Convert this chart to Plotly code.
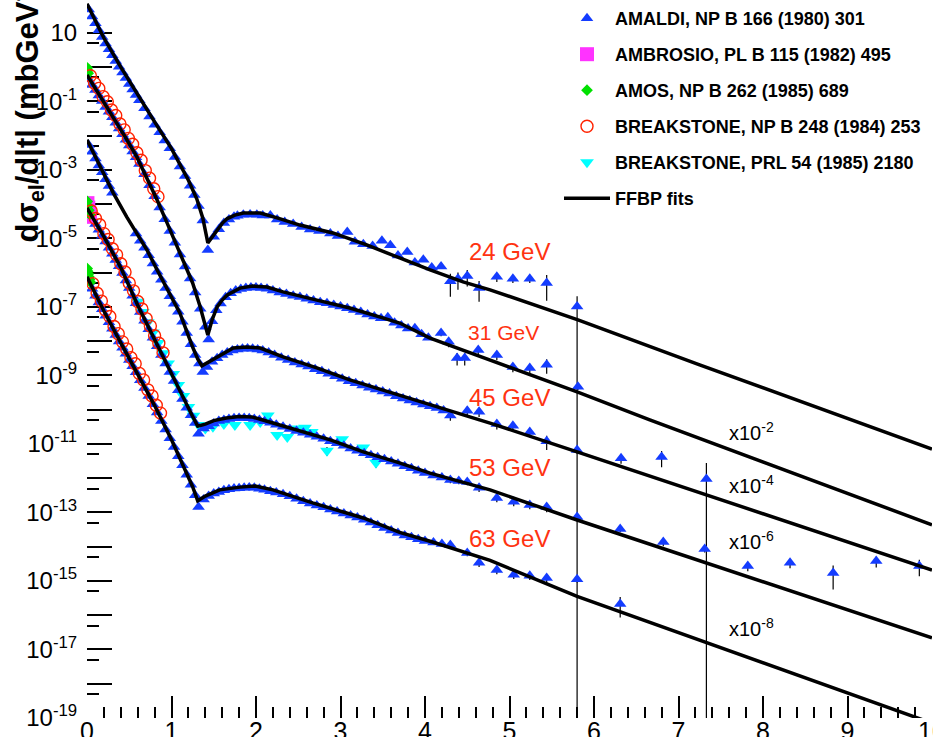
import plotly.graph_objects as go

# ---------------- data (plotted values incl. the x10^-2k offsets), stored as log10 ----------------
# FFBP fit curves: |t| (GeV^2) and log10(dsigma/dt)
fit24_t = [0.0, 0.2, 0.4, 0.6, 0.8, 1.0, 1.2, 1.3, 1.37, 1.43, 1.48, 1.54, 1.6, 1.66, 1.75, 1.85, 2.05, 2.25, 2.52, 2.91, 3.31, 3.70, 4.06, 4.45, 4.77, 5.81, 7.25, 10.0]
fit24_log10 = [1.85, 0.85, 0.0, -0.82, -1.6, -2.38, -3.3, -3.85, -4.4, -5.13, -4.95, -4.75, -4.56, -4.42, -4.32, -4.26, -4.26, -4.40, -4.61, -4.84, -5.19, -5.57, -5.92, -6.27, -6.50, -7.38, -8.69, -11.15]
fit31_t = [0.0, 0.15, 0.31, 0.45, 0.59, 0.71, 0.83, 0.95, 1.07, 1.16, 1.25, 1.34, 1.43, 1.48, 1.54, 1.60, 1.66, 1.81, 1.96, 2.13, 2.32, 2.72, 3.11, 3.50, 3.70, 4.06, 4.45, 4.77, 5.80, 6.66, 10.0]
fit31_log10 = [-0.23, -0.82, -1.45, -2.03, -2.62, -3.24, -3.88, -4.56, -5.25, -5.77, -6.30, -7.00, -7.82, -7.38, -7.00, -6.80, -6.65, -6.45, -6.39, -6.42, -6.56, -6.80, -7.03, -7.32, -7.47, -7.91, -8.26, -8.55, -9.48, -10.30, -13.36]
fit45_t = [0.0, 0.15, 0.31, 0.47, 0.59, 0.71, 0.83, 0.95, 1.10, 1.25, 1.31, 1.36, 1.43, 1.54, 1.63, 1.73, 1.89, 2.05, 2.32, 2.72, 3.11, 3.50, 3.67, 4.06, 4.77, 5.80, 10.0]
fit45_log10 = [-2.12, -2.87, -3.67, -4.37, -4.85, -5.34, -5.92, -6.50, -7.18, -8.17, -8.52, -8.72, -8.62, -8.46, -8.32, -8.20, -8.17, -8.20, -8.46, -8.78, -9.13, -9.42, -9.57, -9.86, -10.39, -11.23, -14.68]
fit53_t = [0.0, 0.2, 0.4, 0.6, 0.8, 1.0, 1.15, 1.25, 1.31, 1.4, 1.5, 1.65, 1.8, 1.95, 2.08, 2.49, 2.88, 3.27, 3.67, 4.06, 4.77, 5.80, 10.0]
fit53_log10 = [-4.11, -4.95, -5.85, -6.95, -7.95, -8.95, -9.75, -10.2, -10.48, -10.42, -10.32, -10.24, -10.20, -10.21, -10.30, -10.59, -10.88, -11.23, -11.53, -11.85, -12.34, -13.22, -16.66]
fit63_t = [0.0, 0.2, 0.4, 0.6, 0.8, 1.0, 1.15, 1.25, 1.31, 1.4, 1.57, 1.81, 1.99, 2.20, 2.67, 3.27, 3.70, 4.06, 4.77, 5.80, 10.0]
fit63_log10 = [-6.12, -7.12, -8.05, -8.95, -9.88, -10.88, -11.68, -12.25, -12.66, -12.52, -12.34, -12.26, -12.23, -12.34, -12.72, -13.16, -13.58, -13.84, -14.40, -15.45, -19.15]

# AMALDI (t, log10)
amaldi_24 = [(0.02,1.68),(0.06,1.48),(0.10,1.28),(0.14,1.08),(0.18,0.88),(0.22,0.69),(0.26,0.52),(0.30,0.35),(0.34,0.18),(0.38,0.01),(0.42,-0.16),(0.46,-0.32),(0.50,-0.49),(0.54,-0.65),(0.58,-0.81),(0.62,-0.97),(0.68,-1.20),(0.74,-1.44),(0.80,-1.68),(0.86,-1.90),(0.92,-2.14),(0.98,-2.37),(1.04,-2.62),(1.10,-2.90),(1.16,-3.18),(1.22,-3.46),(1.27,-3.73),(1.32,-4.05),(1.37,-4.48),(1.43,-5.34),(1.50,-4.95),(1.56,-4.73),(1.62,-4.55),(1.68,-4.45),(1.74,-4.37),(1.78,-4.34),(1.85,-4.31),(1.93,-4.30),(2.01,-4.31),(2.08,-4.33),(2.17,-4.33),(2.25,-4.45),(2.34,-4.52),(2.44,-4.58),(2.54,-4.67),(2.64,-4.74),(2.75,-4.78),(2.88,-4.86),(2.97,-4.93),(3.08,-4.81),(3.17,-5.10),(3.27,-5.17),(3.38,-5.22),(3.49,-5.07),(3.59,-5.20),(3.68,-5.50),(3.79,-5.40),(3.88,-5.70),(3.98,-5.62),(4.08,-5.85),(4.19,-5.82)]
amaldi_31 = [(0.02,-0.36),(0.06,-0.52),(0.10,-0.67),(0.14,-0.83),(0.18,-0.99),(0.22,-1.16),(0.26,-1.30),(0.30,-1.46),(0.34,-1.62),(0.38,-1.79),(0.42,-1.96),(0.46,-2.12),(0.50,-2.29),(0.54,-2.46),(0.58,-2.63),(0.62,-2.83),(0.68,-3.13),(0.74,-3.45),(0.80,-3.77),(0.86,-4.10),(0.92,-4.44),(0.98,-4.78),(1.04,-5.13),(1.10,-5.47),(1.16,-5.82),(1.22,-6.17),(1.28,-6.58),(1.34,-7.05),(1.40,-7.58),(1.44,-7.95),(1.48,-7.42),(1.53,-7.10),(1.58,-6.90),(1.64,-6.72),(1.70,-6.60),(1.76,-6.52),(1.82,-6.48),(1.88,-6.45),(1.94,-6.43),(2.00,-6.43),(2.06,-6.45),(2.13,-6.47),(2.20,-6.52),(2.28,-6.58),(2.36,-6.62),(2.44,-6.67),(2.52,-6.71),(2.60,-6.76),(2.68,-6.81),(2.76,-6.86),(2.84,-6.89),(2.92,-6.94),(3.00,-6.99),(3.08,-7.04),(3.16,-7.09),(3.24,-7.15),(3.32,-7.22),(3.40,-7.28),(3.48,-7.33),(3.56,-7.30),(3.64,-7.46),(3.72,-7.54),(3.80,-7.63),(3.88,-7.62),(3.96,-7.80),(4.04,-7.90)]
amaldi_45 = [(0.02,-2.27),(0.06,-2.47),(0.10,-2.67),(0.14,-2.87),(0.18,-3.07),(0.22,-3.27),(0.26,-3.47),(0.30,-3.67),(0.58,-4.86),(0.63,-5.07),(0.68,-5.27),(0.73,-5.49),(0.78,-5.73),(0.83,-5.97),(0.88,-6.21),(0.93,-6.45),(0.98,-6.69),(1.03,-6.91),(1.08,-7.14),(1.13,-7.43),(1.18,-7.76),(1.23,-8.09),(1.28,-8.40),(1.33,-8.65),(1.37,-8.90),(1.42,-8.75),(1.48,-8.60),(1.54,-8.50),(1.60,-8.40),(1.66,-8.33),(1.72,-8.27),(1.78,-8.24),(1.84,-8.22),(1.90,-8.21),(1.96,-8.22),(2.02,-8.24),(2.08,-8.27),(2.15,-8.33),(2.22,-8.40),(2.30,-8.48),(2.38,-8.55),(2.46,-8.62),(2.54,-8.68),(2.62,-8.74),(2.70,-8.82),(2.78,-8.88),(2.86,-8.95),(2.94,-9.02),(3.02,-9.10),(3.10,-9.17),(3.18,-9.23),(3.26,-9.29),(3.34,-9.36),(3.42,-9.41),(3.50,-9.47),(3.58,-9.53),(3.66,-9.61),(3.74,-9.67),(3.82,-9.73),(3.90,-9.79),(3.98,-9.85)]
amaldi_53 = [(0.02,-4.24),(0.06,-4.41),(0.10,-4.58),(0.14,-4.75),(0.18,-4.92),(0.22,-5.09),(0.26,-5.27),(0.30,-5.45),(0.34,-5.63),(0.38,-5.81),(0.42,-6.01),(0.46,-6.23),(0.50,-6.45),(0.54,-6.67),(0.58,-6.89),(0.63,-7.15),(0.68,-7.40),(0.73,-7.65),(0.78,-7.90),(0.83,-8.15),(0.88,-8.40),(0.93,-8.65),(0.98,-8.90),(1.03,-9.16),(1.08,-9.43),(1.13,-9.69),(1.18,-9.94),(1.23,-10.16),(1.28,-10.39),(1.32,-10.70),(1.38,-10.55),(1.44,-10.48),(1.50,-10.40),(1.56,-10.33),(1.62,-10.30),(1.68,-10.27),(1.74,-10.25),(1.80,-10.24),(1.86,-10.24),(1.92,-10.25),(1.98,-10.27),(2.04,-10.30),(2.10,-10.34),(2.17,-10.38),(2.24,-10.44),(2.32,-10.50),(2.40,-10.56),(2.48,-10.62),(2.56,-10.67),(2.64,-10.73),(2.72,-10.79),(2.80,-10.85),(2.88,-10.92),(2.96,-10.98),(3.04,-11.05),(3.12,-11.13),(3.20,-11.20),(3.28,-11.27),(3.36,-11.33),(3.44,-11.39),(3.52,-11.45),(3.60,-11.51),(3.68,-11.58),(3.76,-11.65),(3.84,-11.71),(3.92,-11.78),(4.00,-11.85)]
amaldi_63 = [(0.02,-6.27),(0.06,-6.47),(0.10,-6.67),(0.14,-6.87),(0.18,-7.07),(0.22,-7.26),(0.26,-7.45),(0.30,-7.64),(0.34,-7.82),(0.38,-8.01),(0.42,-8.19),(0.46,-8.37),(0.50,-8.55),(0.54,-8.73),(0.58,-8.91),(0.63,-9.14),(0.68,-9.37),(0.73,-9.60),(0.78,-9.84),(0.83,-10.08),(0.88,-10.33),(0.93,-10.58),(0.98,-10.83),(1.03,-11.09),(1.08,-11.36),(1.13,-11.62),(1.18,-11.90),(1.23,-12.19),(1.28,-12.50),(1.32,-12.84),(1.38,-12.62),(1.44,-12.52),(1.50,-12.45),(1.56,-12.40),(1.62,-12.35),(1.68,-12.32),(1.74,-12.30),(1.80,-12.29),(1.86,-12.28),(1.92,-12.27),(1.98,-12.28),(2.04,-12.31),(2.10,-12.34),(2.17,-12.38),(2.24,-12.42),(2.32,-12.47),(2.40,-12.53),(2.48,-12.60),(2.56,-12.67),(2.64,-12.74),(2.72,-12.80),(2.80,-12.85),(2.88,-12.91),(2.96,-12.97),(3.04,-13.03),(3.12,-13.09),(3.20,-13.15),(3.28,-13.21),(3.36,-13.29),(3.44,-13.37),(3.52,-13.45),(3.60,-13.53),(3.68,-13.60),(3.76,-13.67),(3.84,-13.72),(3.92,-13.78),(4.00,-13.83)]

# AMALDI large-|t| points with error bars: (t, log10, rel. error up, rel. error down)
amaldi_24_tail = [(4.30,-6.25,0.65,0.65),(4.39,-6.18,0.52,0.52),(4.50,-6.10,0.5,0.5),(4.64,-6.45,0.6,0.6),(4.85,-6.12,0.3,0.3),(5.04,-6.18,0.25,0.25),(5.24,-6.18,0.25,0.25),(5.44,-6.30,0.7,0.7),(5.80,-6.99,1.0,1.0)]
amaldi_31_tail = [(4.19,-7.76,0.2,0.2),(4.28,-8.02,0.3,0.3),(4.38,-8.49,0.4,0.4),(4.47,-8.49,0.4,0.4),(4.63,-8.26,0.3,0.3),(4.85,-8.40,0.3,0.3),(5.04,-8.75,0.3,0.3),(5.24,-8.78,0.3,0.3),(5.44,-8.69,0.45,0.45),(5.81,-9.33,0.2,0.2)]
amaldi_45_tail = [(4.06,-9.90,0.1,0.1),(4.14,-9.95,0.1,0.1),(4.22,-10.02,0.15,0.15),(4.30,-10.17,0.3,0.3),(4.50,-10.03,0.3,0.3),(4.64,-10.06,0.3,0.3),(4.85,-10.42,0.3,0.3),(5.04,-10.47,0.3,0.3),(5.24,-10.65,0.3,0.3),(5.44,-10.92,0.45,0.45),(5.80,-11.18,0.2,0.2),(6.32,-11.42,0.3,0.3),(6.80,-11.38,0.5,0.5),(7.33,-12.02,1.9,1.0)]
amaldi_53_tail = [(4.10,-11.92,0.1,0.1),(4.20,-11.98,0.1,0.1),(4.30,-12.05,0.2,0.2),(4.40,-12.08,0.2,0.2),(4.50,-12.11,0.2,0.2),(4.64,-12.28,0.25,0.25),(4.85,-12.58,0.25,0.25),(5.05,-12.69,0.25,0.25),(5.24,-12.78,0.25,0.25),(5.44,-12.84,0.3,0.3),(5.80,-13.13,0.2,0.2),(6.31,-13.48,0.2,0.2),(6.82,-13.86,0.25,0.25),(7.31,-14.07,0.2,0.2),(7.82,-14.56,0.3,0.3),(8.32,-14.47,0.3,0.3),(8.83,-14.77,0.67,0.67),(9.34,-14.42,0.35,0.35),(9.85,-14.56,0.5,0.5)]
amaldi_63_tail = [(4.10,-13.88,0.1,0.1),(4.20,-13.92,0.1,0.1),(4.30,-13.95,0.2,0.2),(4.50,-14.18,0.2,0.2),(4.64,-14.47,0.25,0.25),(4.85,-14.68,0.25,0.25),(5.05,-14.82,0.25,0.25),(5.24,-14.85,0.25,0.25),(5.44,-14.91,0.3,0.3),(5.80,-14.95,0.2,0.2),(6.31,-15.67,0.6,0.6)]

# AMBROSIO, PL B 115 (1982) 495
ambrosio_53 = [(0.005,-3.97),(0.015,-4.10),(0.025,-4.23),(0.035,-4.37)]
# AMOS, NP B 262 (1985) 689
amos_31 = [(0.003,-0.02),(0.008,-0.10),(0.014,-0.18)]
amos_53 = [(0.003,-3.92),(0.012,-4.05),(0.022,-4.18),(0.032,-4.30)]
amos_63 = [(0.002,-5.88),(0.008,-5.96),(0.015,-6.04),(0.022,-6.12),(0.030,-6.20),(0.040,-6.28)]
# BREAKSTONE, NP B 248 (1984) 253
bnp_31 = [(0.04,-0.25),(0.09,-0.47),(0.14,-0.62),(0.19,-0.86),(0.24,-1.01),(0.29,-1.25),(0.34,-1.41),(0.39,-1.66),(0.44,-1.83),(0.49,-2.08),(0.54,-2.25),(0.59,-2.50),(0.64,-2.72),(0.69,-3.02),(0.74,-3.24),(0.79,-3.55),(0.84,-3.78)]
bnp_53 = [(0.05,-4.20),(0.10,-4.42),(0.15,-4.60),(0.20,-4.86),(0.25,-5.03),(0.30,-5.30),(0.35,-5.48),(0.40,-5.74),(0.45,-5.98),(0.50,-6.30),(0.55,-6.53),(0.60,-6.84),(0.65,-7.06),(0.70,-7.34),(0.75,-7.56),(0.80,-7.84),(0.85,-8.06),(0.90,-8.34)]
bnp_63 = [(0.07,-6.32),(0.12,-6.60),(0.17,-6.83),(0.22,-7.10),(0.27,-7.28),(0.32,-7.57),(0.37,-7.78),(0.42,-8.02),(0.47,-8.23),(0.52,-8.48),(0.57,-8.66),(0.62,-8.94),(0.67,-9.13),(0.72,-9.42),(0.77,-9.60),(0.82,-9.87),(0.87,-10.10)]
# BREAKSTONE, PRL 54 (1985) 2180 : (t, log10, rel. error)
bprl_53 = [(0.60,-6.85,0),(0.66,-7.15,0),(0.72,-7.45,0),(0.78,-7.75,0),(0.84,-8.05,0),(0.90,-8.35,0),(0.96,-8.65,0),(1.02,-8.96,0),(1.08,-9.28,0),(1.14,-9.60,0),(1.20,-9.92,0),(1.26,-10.18,0),(1.32,-10.45,0),(1.40,-10.55,0),(1.49,-10.50,0),(1.62,-10.42,0),(1.75,-10.45,0),(1.93,-10.45,0),(2.05,-10.36,0),(2.14,-10.17,0),(2.25,-10.74,0),(2.37,-10.80,0),(2.50,-10.55,0),(2.58,-10.53,0),(2.66,-10.65,0),(2.84,-11.20,0.3),(3.02,-10.86,0),(3.27,-11.10,0),(3.42,-11.55,0.3)]

energy_labels = ["24 GeV", "31 GeV", "45 GeV", "53 GeV", "63 GeV"]
scale_labels = ["x10<sup>-2</sup>", "x10<sup>-4</sup>", "x10<sup>-6</sup>", "x10<sup>-8</sup>"]

# ---------------- styling ----------------
W, H = 933, 737
ML, MR, MT, MB = 87, 1, 0, 19
PW, PH = W - ML - MR, H - MT - MB
REG = "Liberation Sans Narrow, Liberation Sans, Arial, sans-serif"
BOLD = "Liberation Sans, Arial, sans-serif"
BLUE = "rgb(20,60,255)"
RED = "#ff3311"


def px2paper(px, py):
    return (px - ML) / PW, (H - MB - py) / PH


def xy(points):
    return [p[0] for p in points], [10 ** p[1] for p in points]


fig = go.Figure()

# AMALDI: main points without bars + tail points with bars
ax, ay, aup, adn = [], [], [], []
for main, tail in [(amaldi_24, amaldi_24_tail), (amaldi_31, amaldi_31_tail), (amaldi_45, amaldi_45_tail),
                   (amaldi_53, amaldi_53_tail), (amaldi_63, amaldi_63_tail)]:
    for t, lv in main:
        ax.append(t); ay.append(10 ** lv); aup.append(0); adn.append(0)
    for t, lv, fu, fd in tail:
        v = 10 ** lv
        ax.append(t); ay.append(v); aup.append(fu * v); adn.append(fd * v)

fig.add_trace(go.Scatter(
    x=ax, y=ay, mode="markers", name="AMALDI, NP B 166 (1980) 301",
    legendgroup="g1", zorder=1,
    marker=dict(symbol="triangle-up", size=11, color=BLUE, line=dict(width=0)),
    error_y=dict(type="data", symmetric=False, array=aup, arrayminus=adn,
                 color="black", thickness=1.2, width=0)))

mx, my = xy(ambrosio_53)
fig.add_trace(go.Scatter(
    x=mx, y=my, mode="markers", name="AMBROSIO, PL B 115 (1982) 495",
    legendgroup="g2", zorder=2,
    marker=dict(symbol="square", size=14, color="#ff33ff", line=dict(width=0))))

gx, gy = [], []
for s in (amos_31, amos_53, amos_63):
    x_, y_ = xy(s); gx += x_; gy += y_
fig.add_trace(go.Scatter(
    x=gx, y=gy, mode="markers", name="AMOS, NP B 262 (1985) 689",
    legendgroup="g3", zorder=3,
    marker=dict(symbol="diamond", size=9, color="#00e000", line=dict(width=0))))

rx, ry = [], []
for s in (bnp_31, bnp_53, bnp_63):
    x_, y_ = xy(s); rx += x_; ry += y_
fig.add_trace(go.Scatter(
    x=rx, y=ry, mode="markers", name="BREAKSTONE, NP B 248 (1984) 253",
    legendgroup="g4", zorder=4,
    marker=dict(symbol="circle-open", size=12, color="#ff2200", line=dict(width=1.4, color="#ff2200"))))

cx = [p[0] for p in bprl_53]
cy = [10 ** p[1] for p in bprl_53]
ce = [p[2] * 10 ** p[1] for p in bprl_53]
fig.add_trace(go.Scatter(
    x=cx, y=cy, mode="markers", name="BREAKSTONE, PRL 54 (1985) 2180",
    legendgroup="g5", zorder=0,
    marker=dict(symbol="triangle-down", size=12, color="#00ffff", line=dict(width=0)),
    error_y=dict(type="data", array=ce, color="black", thickness=1.2, width=0)))

fx, fy = [], []
for t_, l_ in [(fit24_t, fit24_log10), (fit31_t, fit31_log10), (fit45_t, fit45_log10),
               (fit53_t, fit53_log10), (fit63_t, fit63_log10)]:
    fx += list(t_) + [None]
    fy += [10 ** v for v in l_] + [None]
fig.add_trace(go.Scatter(
    x=fx, y=fy, mode="lines", name="FFBP fits", legendgroup="g6", zorder=5,
    connectgaps=False, line=dict(color="black", width=3.5)))

# ---------------- axes ----------------
yt = [10.0 ** k for k in range(-19, 2)]
ytt = []
for k in range(-19, 2):
    if k == 1:
        ytt.append("10")
    elif k % 2 != 0:
        ytt.append("10<sup>%d</sup>" % k)
    else:
        ytt.append("")
yminor = [5 * 10.0 ** k for k in range(-20, 1)]

fig.update_xaxes(range=[0, 10], showline=True, linecolor="black", linewidth=2,
                 ticks="inside", ticklen=22, tickwidth=2, tickcolor="black",
                 tick0=0, dtick=1, showgrid=False, zeroline=False, automargin=False,
                 ticklabelstandoff=-10, ticklabeloverflow="allow",
                 tickfont=dict(family=REG, size=25, color="black"),
                 minor=dict(dtick=0.2, tick0=0, ticks="inside", ticklen=11, tickwidth=2,
                            tickcolor="black", showgrid=False))
fig.update_yaxes(type="log", range=[-19, 1.96], showline=True, linecolor="black", linewidth=2,
                 ticks="inside", ticklen=25, tickwidth=2, tickcolor="black",
                 tickmode="array", tickvals=yt, ticktext=ytt, showgrid=False, zeroline=False,
                 automargin=False, ticklabelstandoff=3,
                 tickfont=dict(family=REG, size=24, color="black"),
                 minor=dict(tickmode="array", tickvals=yminor, ticks="inside", ticklen=12,
                            tickwidth=2, tickcolor="black", showgrid=False))

# ---------------- annotations ----------------
ann = []
tx, ty = px2paper(27, 245)
ann.append(dict(text="dσ<sub>el</sub>/d|t| (mbGeV<sup>-2</sup>)", xref="paper", yref="paper",
                x=tx, y=ty, xanchor="center", yanchor="bottom", textangle=-90, showarrow=False,
                font=dict(family=BOLD, size=31, color="black", weight="bold")))
e_pos = [(509, 251, 24), (503, 332, 21), (509, 397, 24), (509, 468, 24), (509, 538, 24)]
for lab, (px, py, fs) in zip(energy_labels, e_pos):
    x_, y_ = px2paper(px, py)
    ann.append(dict(text=lab, xref="paper", yref="paper", x=x_, y=y_, xanchor="center",
                    yanchor="middle", showarrow=False, font=dict(family=REG, size=fs, color=RED)))
s_pos = [(727, 431), (727, 484), (727, 540), (727, 627)]
for lab, (px, py) in zip(scale_labels, s_pos):
    x_, y_ = px2paper(px, py)
    ann.append(dict(text=lab, xref="paper", yref="paper", x=x_, y=y_, xanchor="left",
                    yanchor="middle", showarrow=False, font=dict(family=REG, size=20, color="black")))

lx, ly = px2paper(559, 0)
fig.update_layout(
    width=W, height=H, autosize=False,
    margin=dict(l=ML, r=MR, t=MT, b=MB, pad=0, autoexpand=False),
    paper_bgcolor="white", plot_bgcolor="white",
    annotations=ann,
    showlegend=True,
    legend=dict(x=lx, y=ly, xanchor="left", yanchor="top", bgcolor="rgba(0,0,0,0)",
                traceorder="grouped", tracegroupgap=9.6, itemwidth=46,
                font=dict(family=BOLD, size=18, color="black", weight="bold")),
)

fig.write_html("out.html", config={"displayModeBar": False})
